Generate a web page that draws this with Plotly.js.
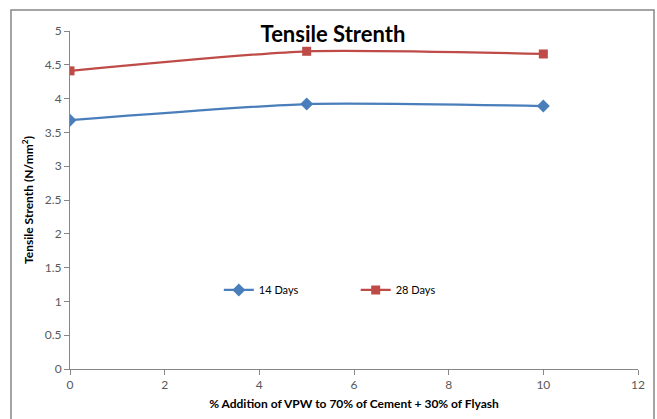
<!DOCTYPE html>
<html>
<head>
<meta charset="utf-8">
<script src="https://cdn.plot.ly/plotly-3.0.1.min.js"></script>
<style>
  html, body { margin: 0; padding: 0; background: #ffffff; }
  #chart { width: 657px; height: 419px; }
</style>
</head>
<body>
<div id="chart"></div>
<script>
// % addition of VPW
const additionPct = [0, 5, 10];
// Tensile strength (N/mm²) by curing age
const days14 = [3.68, 3.92, 3.89];
const days28 = [4.41, 4.70, 4.66];
const seriesNames = ['14 Days', '28 Days'];

const tickFont = { family: 'Lato, "Open Sans", sans-serif', size: 12, color: '#595959' };
const boldFont = { family: 'Lato, "Open Sans", sans-serif', size: 12, color: '#000000', weight: 'bold' };

const traces = [
  {
    x: additionPct, y: days14, name: seriesNames[0], mode: 'lines+markers',
    line: { color: '#4A7EBB', width: 2.25, shape: 'spline', smoothing: 0.6 },
    marker: { symbol: 'diamond', size: 10, color: '#4A7EBB' },
    legend: 'legend', showlegend: true
  },
  {
    x: additionPct, y: days28, name: seriesNames[1], mode: 'lines+markers',
    line: { color: '#BE4B48', width: 2.25, shape: 'spline', smoothing: 0.6 },
    marker: { symbol: 'square', size: 9, color: '#BE4B48' },
    legend: 'legend2', showlegend: true
  }
];

const legendBase = {
  orientation: 'h', yanchor: 'middle', xanchor: 'left', y: 0.234,
  bgcolor: 'rgba(0,0,0,0)', font: { family: 'Lato, "Open Sans", sans-serif', size: 11, color: '#000000' },
  itemwidth: 30, tracegroupgap: 0
};

const layout = {
  width: 657, height: 419,
  showlegend: true,
  margin: { l: 70, r: 19, t: 31, b: 50 },
  paper_bgcolor: '#ffffff', plot_bgcolor: '#ffffff',
  title: {
    text: 'Tensile Strenth',
    font: { family: 'Lato, "Open Sans", sans-serif', size: 22, color: '#000000', weight: 'bold' },
    xref: 'paper', x: 0.463, xanchor: 'center',
    yref: 'container', y: 0.917, yanchor: 'middle'
  },
  xaxis: {
    range: [0, 12], dtick: 2, tick0: 0,
    showgrid: false, zeroline: false,
    showline: true, linecolor: '#868686', linewidth: 1,
    ticks: 'outside', ticklen: 5, tickcolor: '#868686',
    tickfont: tickFont,
    title: { text: '% Addition of VPW to 70% of Cement + 30% of Flyash', font: boldFont, standoff: 8 }
  },
  yaxis: {
    range: [0, 5], dtick: 0.5, tick0: 0,
    showgrid: false, zeroline: false,
    showline: true, linecolor: '#868686', linewidth: 1,
    ticks: 'outside', ticklen: 5, tickcolor: '#868686',
    tickfont: tickFont,
    title: { text: 'Tensile Strenth (N/mm<sup>2</sup>)', font: boldFont, standoff: 8 }
  },
  legend: Object.assign({}, legendBase, { x: 0.262 }),
  legend2: Object.assign({}, legendBase, { x: 0.503 }),
  shapes: [{
    type: 'rect', xref: 'paper', yref: 'paper',
    x0: -0.1039, x1: 1.0282, y0: -0.25, y1: 1.062,
    line: { color: '#868686', width: 1.5 }, fillcolor: 'rgba(0,0,0,0)', layer: 'below'
  }]
};

Plotly.newPlot('chart', traces, layout, { displayModeBar: false, staticPlot: true });
</script>
</body>
</html>
